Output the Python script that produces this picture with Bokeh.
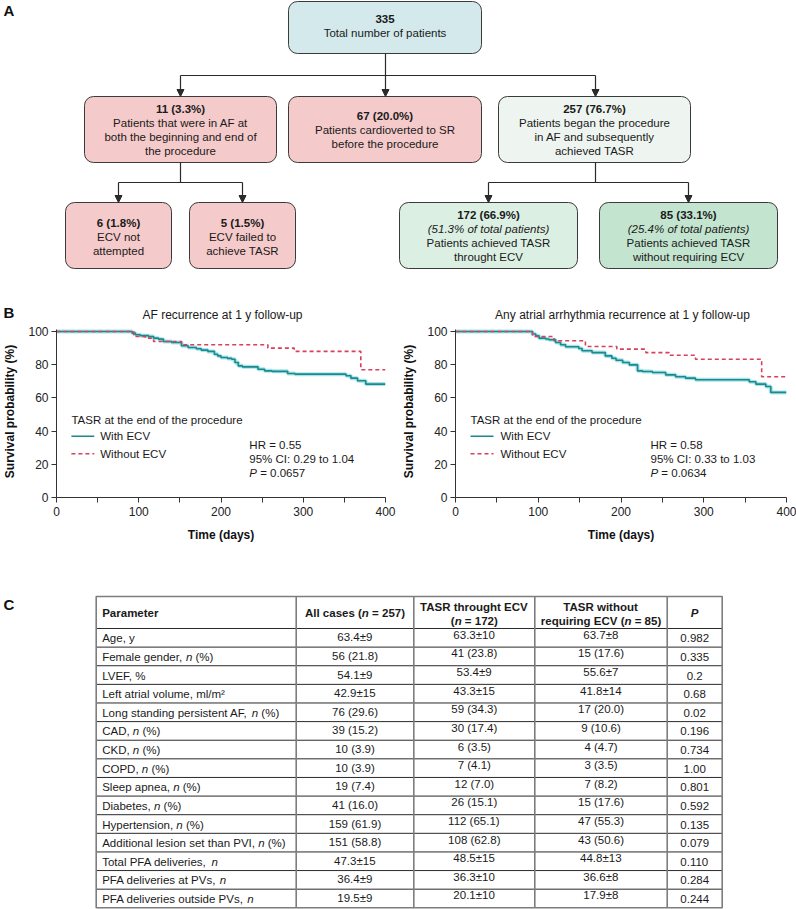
from bokeh.plotting import figure
from bokeh.models import Range1d, FixedTicker, Arrow, NormalHead
from bokeh.layouts import column, row
from bokeh.core.properties import value
from bokeh.embed import file_html
from bokeh.resources import INLINE

FONT = "Liberation Sans"

# ---------------- data ----------------
flow_counts = ["335", "11 (3.3%)", "67 (20.0%)", "257 (76.7%)",
               "6 (1.8%)", "5 (1.5%)", "172 (66.9%)", "85 (33.1%)"]
flow_notes = ["", "", "", "", "", "", "(51.3% of total patients)", "(25.4% of total patients)"]
flow_desc = [["Total number of patients"],
             ["Patients that were in AF at", "both the beginning and end of", "the procedure"],
             ["Patients cardioverted to SR", "before the procedure"],
             ["Patients began the procedure", "in AF and subsequently", "achieved TASR"],
             ["ECV not", "attempted"],
             ["ECV failed to", "achieve TASR"],
             ["Patients achieved TASR", "throught ECV"],
             ["Patients achieved TASR", "without requiring ECV"]]

km_titles = ["AF recurrence at 1 y follow-up", "Any atrial arrhythmia recurrence at 1 y follow-up"]
legend_title = "TASR at the end of the procedure"
legend_labels = ["With ECV", "Without ECV"]
x_ticks = [0, 100, 200, 300, 400]
x_minor = [50, 150, 250, 350]
y_ticks = [0, 20, 40, 60, 80, 100]

af_ecv_t = [0, 92, 96, 102, 112, 118, 124, 130, 140, 152, 160, 170, 176, 184, 192, 196, 200, 208, 213, 217,
            221, 226, 245, 253, 262, 281, 290, 352, 358, 366, 376, 400]
af_ecv_s = [100, 99.0, 98.0, 97.5, 97.0, 96.0, 95.4, 94.0, 93.4, 91.4, 90.4, 89.6, 88.8, 88.0, 86.3, 85.3, 84.3,
            83.8, 83.3, 81.3, 79.3, 78.7, 77.3, 76.3, 76.0, 74.7, 74.3, 73.3, 71.9, 70.3, 68.3, 68.3]
af_no_t = [0, 94, 108, 118, 152, 257, 289, 370, 400]
af_no_s = [100, 97, 96, 94, 92, 90, 88, 77, 77]
af_stats = ["HR = 0.55", "95% CI: 0.29 to 1.04", "0.0657"]

any_ecv_t = [0, 93, 97, 101, 109, 113, 121, 127, 133, 149, 153, 165, 181, 189, 194, 202, 210, 220, 226, 238,
             254, 266, 278, 290, 355, 363, 375, 381, 400]
any_ecv_s = [100, 98.5, 97.4, 96, 95.5, 95, 93.4, 92, 90.8, 89.8, 88.4, 87.3, 85.3, 83.9, 82.7, 81.3, 79.9,
             76.3, 75.9, 75.3, 73.9, 72.7, 71.9, 70.9, 69.7, 68.3, 66.9, 63.3, 63.3]
any_no_t = [0, 93, 119, 157, 195, 230, 258, 290, 370, 400]
any_no_s = [100, 97, 94.4, 91, 89.4, 87.3, 85.7, 83.3, 72.7, 72.7]
any_stats = ["HR = 0.58", "95% CI: 0.33 to 1.03", "0.0634"]

table_headers = ["Parameter", "All cases (*n* = 257)", ["TASR throught ECV", "(*n* = 172)"],
                 ["TASR without", "requiring ECV (*n* = 85)"], "*P*"]
params = ["Age, y", "Female gender, *n* (%)", "LVEF, %", "Left atrial volume, ml/m²",
          "Long standing persistent AF, *n* (%)", "CAD, *n* (%)", "CKD, *n* (%)", "COPD, *n* (%)",
          "Sleep apnea, *n* (%)", "Diabetes, *n* (%)", "Hypertension, *n* (%)",
          "Additional lesion set than PVI, *n* (%)", "Total PFA deliveries, *n*",
          "PFA deliveries at PVs, *n*", "PFA deliveries outside PVs, *n*"]
all_cases = ["63.4±9", "56 (21.8)", "54.1±9", "42.9±15", "76 (29.6)", "39 (15.2)", "10 (3.9)", "10 (3.9)",
             "19 (7.4)", "41 (16.0)", "159 (61.9)", "151 (58.8)", "47.3±15", "36.4±9", "19.5±9"]
tasr_ecv = ["63.3±10", "41 (23.8)", "53.4±9", "43.3±15", "59 (34.3)", "30 (17.4)", "6 (3.5)", "7 (4.1)",
            "12 (7.0)", "26 (15.1)", "112 (65.1)", "108 (62.8)", "48.5±15", "36.3±10", "20.1±10"]
tasr_no_ecv = ["63.7±8", "15 (17.6)", "55.6±7", "41.8±14", "17 (20.0)", "9 (10.6)", "4 (4.7)", "3 (3.5)",
               "7 (8.2)", "15 (17.6)", "47 (55.3)", "43 (50.6)", "44.8±13", "36.6±8", "17.9±8"]
p_values = ["0.982", "0.335", "0.2", "0.68", "0.02", "0.196", "0.734", "1.00", "0.801", "0.592", "0.135",
            "0.079", "0.110", "0.284", "0.244"]

# ---------------- layout / styles ----------------
PAGE_W = 796
box_x0 = [288, 84, 288, 498, 65, 189, 399, 599]
box_x1 = [481, 276, 481, 690, 171, 295, 577, 777]
box_y0 = [1, 96, 96, 96, 202, 202, 202, 202]
box_y1 = [53, 162, 162, 162, 268, 268, 268, 268]
box_ty = [18, 108, 115, 108, 222, 222, 214, 214]
box_fill = ["#d3e9eb", "#f5caca", "#f5caca", "#eef5f0", "#f5caca", "#f5caca", "#dcefe3", "#c3e4cf"]
LINE_H = 14
TXT = "11.5px"
INK = "#1a1a1a"
TEAL = "#1b8a8e"
HALO = "#a9e3e7"
RED = "#d8405c"


def _mk(upper, lower, extra):
    d = dict(extra)
    for c, w in zip("ABCDEFGHIJKLMNOPQRSTUVWXYZ", upper):
        d[c] = w
    for c, w in zip("abcdefghijklmnopqrstuvwxyz", lower):
        d[c] = w
    for c in "0123456789":
        d[c] = 556
    return d


REG = _mk([667, 667, 722, 722, 667, 611, 778, 722, 278, 500, 667, 556, 833, 722, 778, 667, 778, 722, 667, 611,
           722, 667, 944, 667, 667, 611],
          [556, 556, 500, 556, 556, 278, 556, 556, 222, 222, 500, 222, 833, 556, 556, 556, 556, 333, 500, 278,
           556, 500, 722, 500, 500, 500],
          {" ": 278, "%": 889, "(": 333, ")": 333, ",": 278, "-": 333, ".": 278, "/": 278, ":": 278,
           "=": 584, "±": 584, "²": 333})
BLD = _mk([722, 722, 722, 722, 667, 611, 778, 722, 278, 556, 722, 611, 833, 722, 778, 667, 778, 722, 667, 611,
           722, 667, 944, 667, 667, 611],
          [556, 611, 556, 611, 556, 333, 611, 611, 278, 278, 556, 278, 889, 611, 611, 611, 611, 389, 556, 333,
           611, 556, 778, 556, 556, 500],
          {" ": 278, "%": 889, "(": 333, ")": 333, ",": 278, "-": 333, ".": 278, "/": 278, ":": 333,
           "=": 584, "±": 584, "²": 333})


def tw(s, size, bold):
    tab = BLD if bold else REG
    return sum(tab.get(c, 556) for c in s) * size / 1000.0


def parse(s, bold=False):
    out = []
    for k, piece in enumerate(s.split("*")):
        if piece:
            out.append((piece, bold, k % 2 == 1))
    return out


def rich(p, parts, x, y, size=11.5, align="left", xscale=1.0, color=INK):
    widths = [tw(t, size, b) * xscale for t, b, i in parts]
    total = sum(widths)
    cur = x - total / 2 if align == "center" else (x - total if align == "right" else x)
    for (t, b, i), w in zip(parts, widths):
        lead = len(t) - len(t.lstrip(" "))
        s = t.strip(" ")
        if s:
            style = ("bold " if b else "") + ("italic" if i else "")
            style = style.strip() or "normal"
            p.text(x=[cur + tw(" " * lead, size, b) * xscale], y=[y], text=[s],
                   text_font=value(FONT), text_font_size=f"{size}px", text_font_style=style,
                   text_align="left", text_baseline="middle", text_color=color)
        cur += w


def blank(width, height, xr, yr):
    p = figure(width=width, height=height, x_range=Range1d(*xr), y_range=Range1d(*yr),
               x_axis_type=None, y_axis_type=None, output_backend="svg", toolbar_location=None,
               min_border=0, outline_line_color=None)
    p.grid.visible = False
    return p


# ---------------- panel A (plus B heading row) ----------------
A_H = 325
pa = blank(PAGE_W, A_H, (0, PAGE_W), (A_H, 0))
pa.quad(left=box_x0, right=box_x1, top=box_y0, bottom=box_y1, fill_color=box_fill,
        line_color="#3a3a3a", line_width=1, border_radius=9)
for k in range(len(flow_counts)):
    cx = (box_x0[k] + box_x1[k]) / 2
    lines = [(flow_counts[k], "bold")]
    if flow_notes[k]:
        lines.append((flow_notes[k], "italic"))
    lines += [(d, "normal") for d in flow_desc[k]]
    for j, (t, st) in enumerate(lines):
        pa.text(x=[cx], y=[box_ty[k] + j * LINE_H], text=[t], text_font=value(FONT), text_font_size=TXT,
                text_font_style=st, text_align="center", text_baseline="middle", text_color=INK)

CON = "#2a2a2a"
pa.segment(x0=[180, 180, 118, 595, 488], y0=[75, 162, 182, 162, 182],
           x1=[595, 180, 242, 595, 688], y1=[75, 182, 182, 182, 182], line_color=CON, line_width=1.2)
for (xs, ys, ye) in [(180, 75, 96), (385, 53, 96), (595, 75, 96),
                     (118, 182, 202), (242, 182, 202), (488, 182, 202), (688, 182, 202)]:
    pa.add_layout(Arrow(end=NormalHead(size=7, fill_color=CON, line_color=CON, line_width=1),
                        x_start=xs, y_start=ys, x_end=xs, y_end=ye, line_color=CON, line_width=1.2))

for lab, yy in [("A", 10), ("B", 312)]:
    pa.text(x=[3], y=[yy], text=[lab], text_font=value(FONT), text_font_size="15px", text_font_style="bold",
            text_align="left", text_baseline="middle", text_color="#111")
for t, cx in zip(km_titles, [222, 622]):
    pa.text(x=[cx], y=[314], text=[t], text_font=value(FONT), text_font_size="12px",
            text_align="center", text_baseline="middle", text_color=INK)

# ---------------- panel B ----------------
KM_TOP = A_H
KM_H = 223
BOT = 51
Y0_REF = 497.0
PPU = 1.66
Y_TOP = (KM_H - BOT) / PPU


def make_km(fig_left, fig_w, fl, fr, te, se, tn, sn, stats, leg_x, txt_x, hr_x):
    p = figure(width=fig_w, height=KM_H, x_range=Range1d(0, 400), y_range=Range1d(0, Y_TOP),
               output_backend="svg", toolbar_location=None,
               min_border_left=fl - fig_left, min_border_right=fig_left + fig_w - fr,
               min_border_top=0, min_border_bottom=BOT, outline_line_color=None)
    p.grid.visible = False
    xs = 400.0 / (fr - fl)

    def dx(rx):
        return (rx - fl) * xs

    def dy(ry):
        return (Y0_REF - ry) / PPU

    p.xaxis.ticker = FixedTicker(ticks=x_ticks, minor_ticks=x_minor)
    p.yaxis.ticker = FixedTicker(ticks=y_ticks)
    p.xaxis.bounds = (0, 400)
    p.yaxis.bounds = (0, 101.5)
    for ax in (p.xaxis[0], p.yaxis[0]):
        ax.axis_line_color = "#333"
        ax.major_tick_line_color = "#333"
        ax.minor_tick_line_color = "#333"
        ax.major_tick_in = 0
        ax.major_tick_out = 5
        ax.minor_tick_in = 0
        ax.major_label_text_font = FONT
        ax.major_label_text_font_size = "12px"
        ax.major_label_text_color = "#222"
        ax.axis_label_text_font = FONT
        ax.axis_label_text_font_size = "12px"
        ax.axis_label_text_font_style = "bold"
        ax.axis_label_text_color = "#111"
    p.xaxis.minor_tick_out = 5
    p.yaxis.minor_tick_out = 0
    p.xaxis.axis_label = "Time (days)"
    p.yaxis.axis_label = "Survival probability (%)"
    p.xaxis.major_label_standoff = 4
    p.xaxis.axis_label_standoff = 9
    p.yaxis.major_label_standoff = 3
    p.yaxis.axis_label_standoff = 8

    p.step(te, se, mode="after", line_color=HALO, line_width=4)
    p.step(te, se, mode="after", line_color=TEAL, line_width=1.6)
    p.step(tn, sn, mode="after", line_color=RED, line_width=1.6, line_dash="4 3")

    p.text(x=[dx(leg_x)], y=[dy(419)], text=[legend_title], text_font=value(FONT), text_font_size=TXT,
           text_align="left", text_baseline="middle", text_color=INK)
    p.line([dx(leg_x), dx(leg_x + 23)], [dy(435.7)] * 2, line_color=TEAL, line_width=1.6)
    p.line([dx(leg_x), dx(leg_x + 23)], [dy(453.3)] * 2, line_color=RED, line_width=1.6, line_dash="4 3")
    for lab, ry in zip(legend_labels, [435.7, 453.3]):
        p.text(x=[dx(txt_x)], y=[dy(ry)], text=[lab], text_font=value(FONT), text_font_size=TXT,
               text_align="left", text_baseline="middle", text_color=INK)
    rich(p, [(stats[0], False, False)], dx(hr_x), dy(444.3), xscale=xs)
    rich(p, [(stats[1], False, False)], dx(hr_x), dy(458.3), xscale=xs)
    rich(p, [("P", False, True), (" = " + stats[2], False, False)], dx(hr_x), dy(472.3), xscale=xs)
    return p


km1 = make_km(0, 398, 54, 385, af_ecv_t, af_ecv_s, af_no_t, af_no_s, af_stats, 69, 98, 248)
km2 = make_km(398, 398, 455, 786, any_ecv_t, any_ecv_s, any_no_t, any_no_s, any_stats, 470, 500, 650)

# ---------------- panel C ----------------
C_TOP = KM_TOP + KM_H
C_H = 909 - C_TOP
pc = blank(PAGE_W, C_H, (0, PAGE_W), (909, C_TOP))
col_edges = [95.7, 295.7, 413.3, 534.3, 666.7, 721.7]
T_TOP = 596.0
H_BOT = 628.0
ROW_H = (907.3 - H_BOT) / len(params)
T_BOT = H_BOT + ROW_H * len(params)

hy = [H_BOT + ROW_H * i for i in range(0, len(params))]
pc.segment(x0=[col_edges[0]] * len(hy), x1=[col_edges[-1]] * len(hy), y0=hy, y1=hy,
           line_color="#2a2a2a", line_width=1)
pc.segment(x0=col_edges[1:-1], x1=col_edges[1:-1], y0=[T_TOP] * 4, y1=[T_BOT] * 4,
           line_color="#7d7d7d", line_width=1.6)
pc.quad(left=[col_edges[0]], right=[col_edges[-1]], top=[T_TOP], bottom=[T_BOT], fill_color=None,
        line_color="#7d7d7d", line_width=1.6)

pc.text(x=[3], y=[604], text=["C"], text_font=value(FONT), text_font_size="15px", text_font_style="bold",
        text_align="left", text_baseline="middle", text_color="#111")

cc = [(col_edges[i] + col_edges[i + 1]) / 2 for i in range(5)]
rich(pc, parse(table_headers[0], True), col_edges[0] + 6, 612)
rich(pc, parse(table_headers[1], True), cc[1], 612, align="center")
for ci in (2, 3):
    rich(pc, parse(table_headers[ci][0], True), cc[ci], 606, align="center")
    rich(pc, parse(table_headers[ci][1], True), cc[ci], 620, align="center")
rich(pc, parse(table_headers[4], True), cc[4], 612, align="center")

for r in range(len(params)):
    yc = H_BOT + ROW_H * (r + 0.5)
    rich(pc, parse(params[r]), col_edges[0] + 6, yc + 0.5)
    rich(pc, [(all_cases[r], False, False)], cc[1], yc - 0.5, align="center")
    rich(pc, [(tasr_ecv[r], False, False)], cc[2], yc - 3, align="center")
    rich(pc, [(tasr_no_ecv[r], False, False)], cc[3], yc - 3, align="center")
    rich(pc, [(p_values[r], False, False)], cc[4], yc + 0.5, align="center")

layout = column(pa, row(km1, km2), pc)
open("out.html", "w").write(file_html(layout, INLINE))
